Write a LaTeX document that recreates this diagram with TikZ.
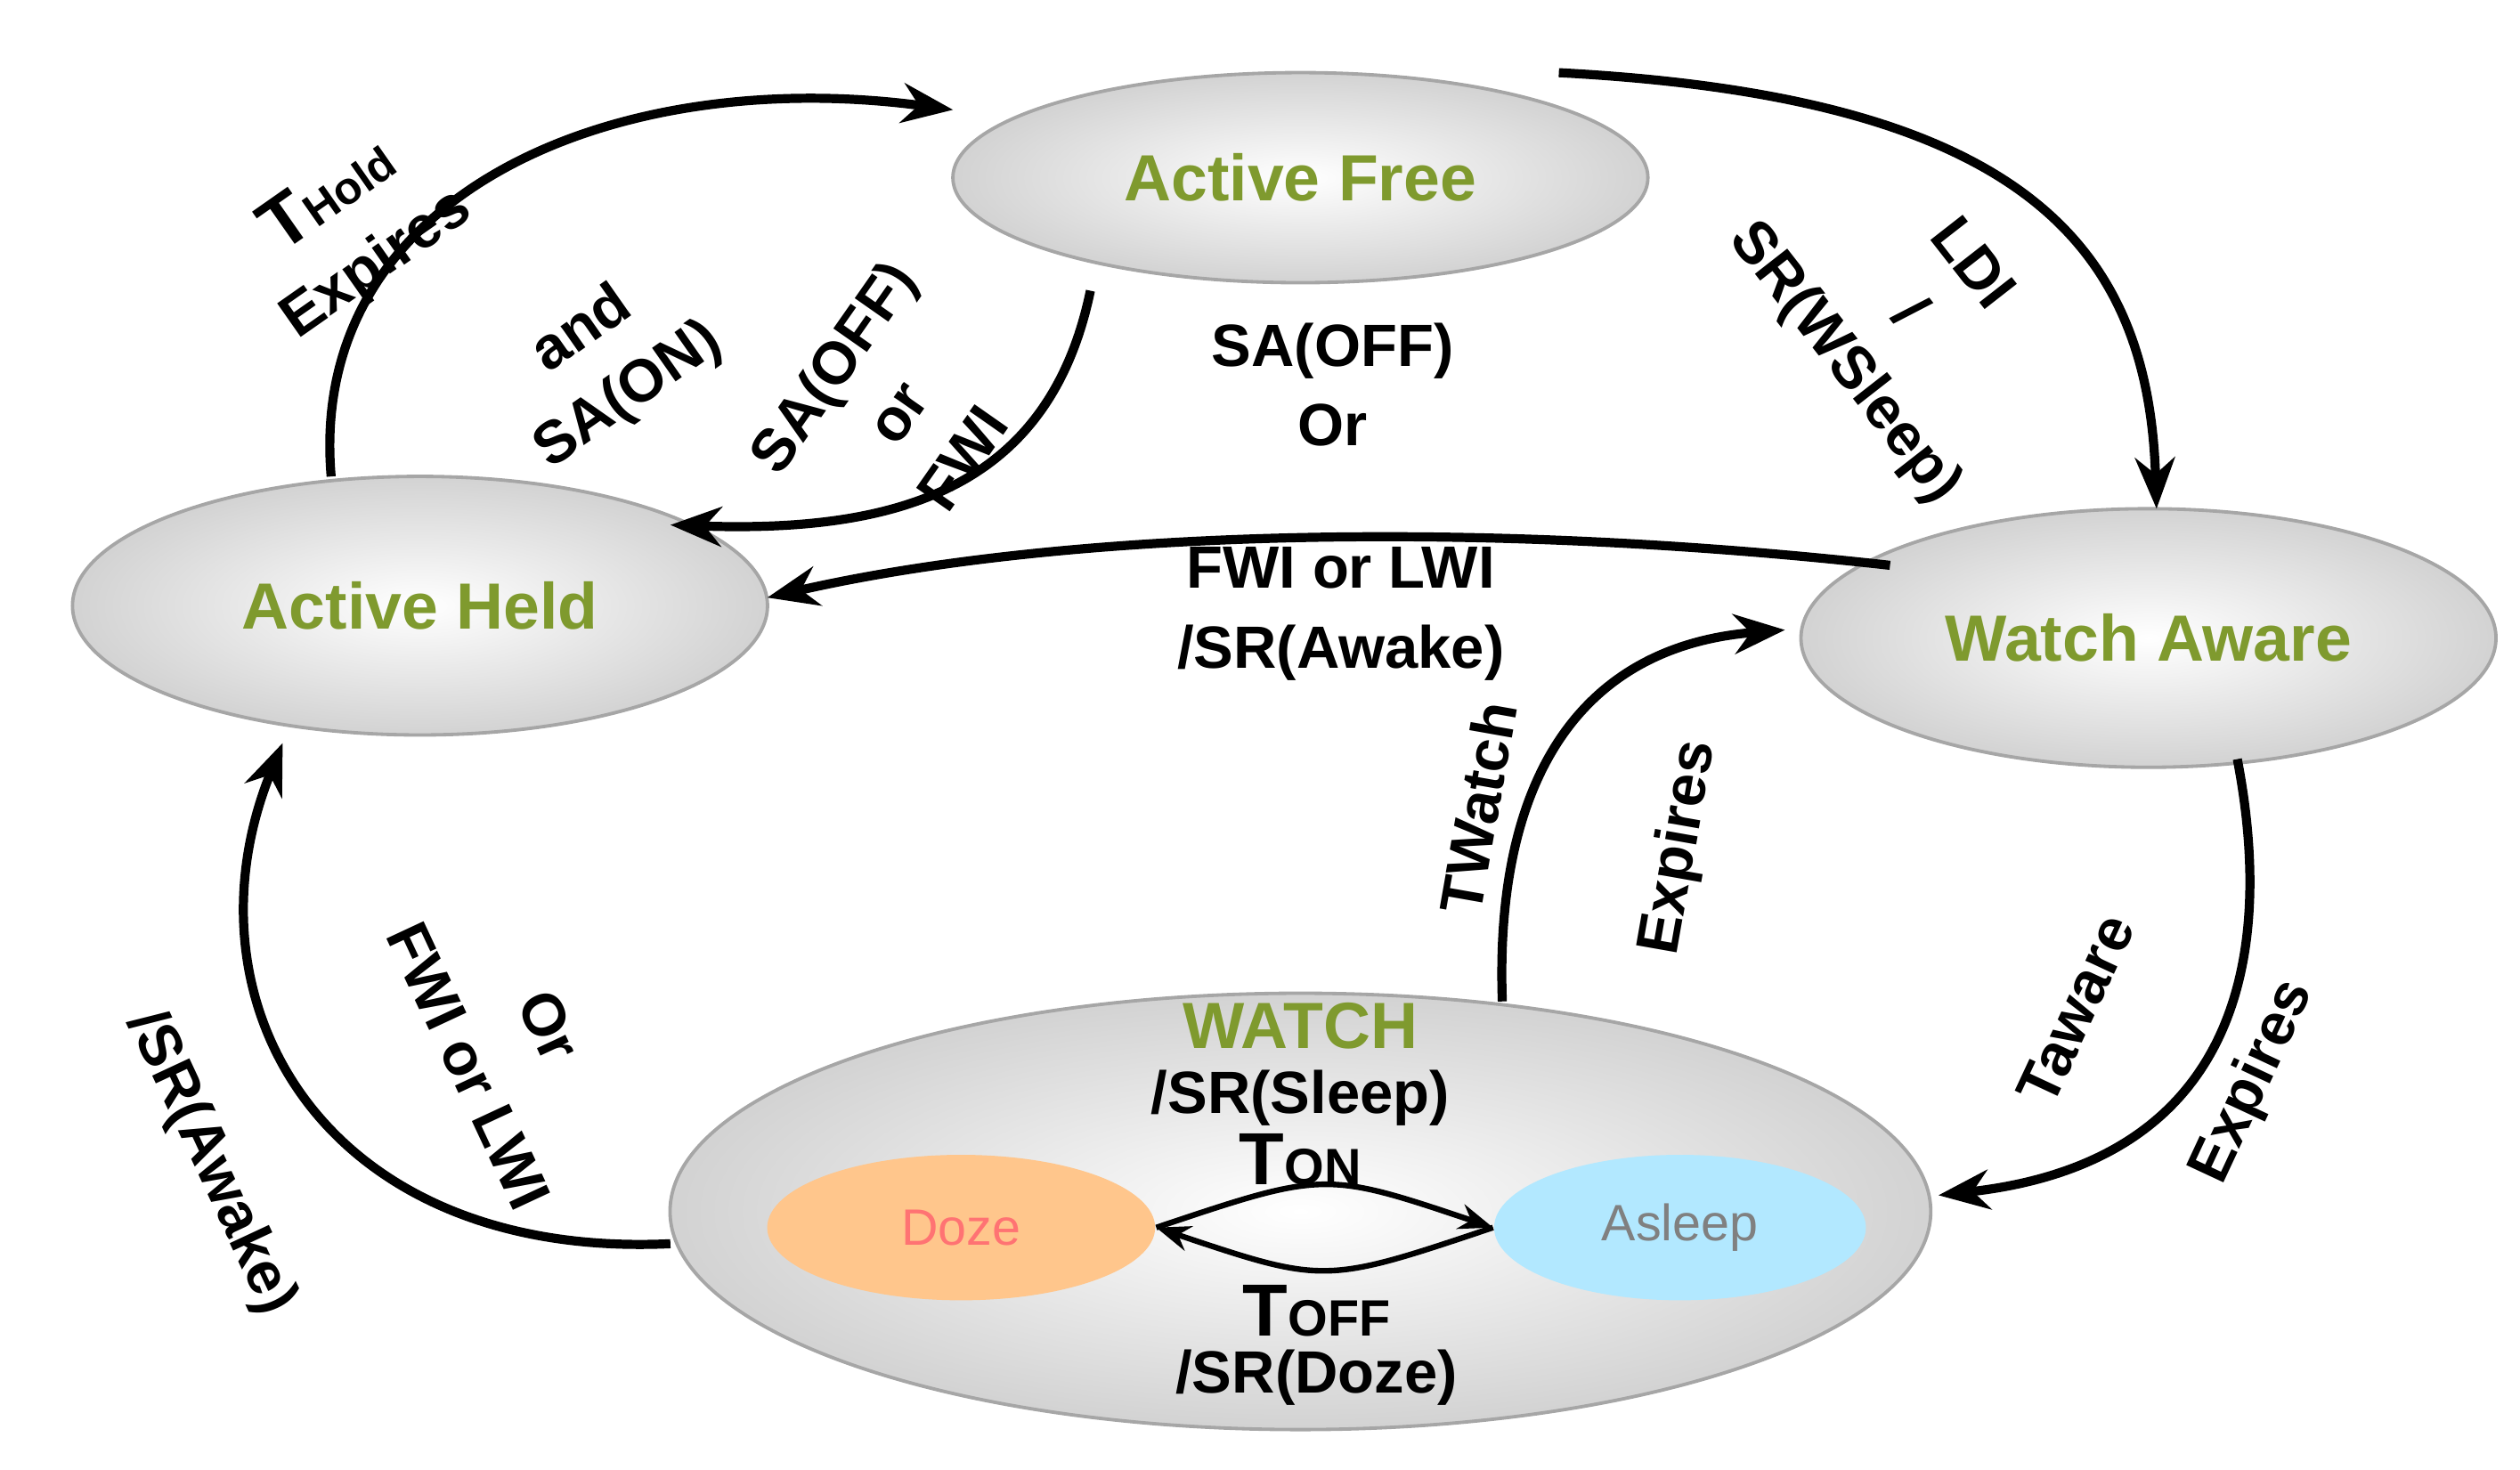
\documentclass[tikz,border=0pt]{standalone}
\usepackage{fontspec}
\setmainfont{Liberation Sans}
\usetikzlibrary{arrows.meta,shapes.geometric}
\definecolor{grn}{HTML}{7F9A2E}
\begin{document}
\begin{tikzpicture}[x=0.01cm,y=-0.01cm,
 st/.style={ellipse,draw=gray!70,line width=0.6pt,inner color=white,outer color=gray!35,font=\bfseries\fontsize{11.5}{13}\selectfont,text=grn},
 ar/.style={line width=1.6pt,-{Stealth[length=9pt,width=7pt]}},
 lb/.style={font=\bfseries\fontsize{10.5}{14}\selectfont,align=center,inner sep=0pt}]
\useasboundingbox (0,0) rectangle (1560,910);
\node[st,minimum width=4.3cm,minimum height=1.3cm] (af) at (805,110) {Active Free};
\node[st,minimum width=4.3cm,minimum height=1.6cm] (ah) at (260,375) {Active Held};
\node[st,minimum width=4.3cm,minimum height=1.6cm] (wa) at (1330,395) {Watch Aware};
\node[st,minimum width=7.8cm,minimum height=2.7cm] (w) at (805,750) {};
\node[ellipse,fill=orange!45,minimum width=2.4cm,minimum height=0.9cm,font=\fontsize{9}{10}\selectfont,text=red!55] (dz) at (595,760) {Doze};
\node[ellipse,fill=blue!30!cyan!30,minimum width=2.3cm,minimum height=0.9cm,font=\fontsize{9}{10}\selectfont,text=gray] (as) at (1040,760) {Asleep};
\node[lb,text=grn,font=\bfseries\fontsize{11.5}{13}\selectfont] (wt) at (805,635) {WATCH};
\node[lb] (ws) at (805,680) {/SR(Sleep)};
\node[lb] (ton) at (805,718) {\fontsize{13}{13}\selectfont T\fontsize{9}{10}\selectfont ON};
\node[lb,font=\bfseries\fontsize{10.5}{12}\selectfont] (toff) at (815,833) {\fontsize{13}{13}\selectfont T\fontsize{9}{10}\selectfont OFF\\[-2pt]\fontsize{10.5}{12}\selectfont/SR(Doze)};
% connectors
\draw[ar] (205,295) .. controls (190,120) and (380,40) .. (590,68);
\draw[ar] (675,180) .. controls (650,300) and (560,330) .. (415,325);
\draw[ar] (965,45) .. controls (1250,60) and (1330,150) .. (1335,315);
\draw[ar] (1170,350) .. controls (900,320) and (650,330) .. (475,370);
\draw[ar] (930,620) .. controls (925,480) and (980,400) .. (1105,390);
\draw[ar] (1385,470) .. controls (1410,600) and (1380,720) .. (1200,740);
\draw[ar] (415,770) .. controls (200,780) and (110,620) .. (175,460);
\draw[line width=1pt,-{Stealth[length=6pt]}] (dz.east) .. controls (820,725) .. (as.west);
\draw[line width=1pt,-{Stealth[length=6pt]}] (as.west) .. controls (820,795) .. (dz.east);
% labels
\node[lb,rotate=35] (l1) at (218,142) {\fontsize{13}{13}\selectfont T\fontsize{8}{9}\selectfont Hold\\Expires};
\node[lb,rotate=35] (l2) at (375,225) {and\\SA(ON)};
\node[lb,rotate=55] (l3) at (555,255) {SA(OFF)\\or\\FWI};
\node[lb] (l4) at (825,238) {SA(OFF)\\Or};
\node[lb,rotate=-52] (l5) at (1180,195) {LDI\\/\\SR(WSleep)};
\node[lb] (l6) at (830,380) {FWI or LWI\\/SR(Awake)};
\node[lb,rotate=80] (l7) at (915,500) {TWatch};
\node[lb,rotate=80] (l8) at (1040,525) {Expires};
\node[lb,rotate=65] (l9) at (1285,625) {Taware};
\node[lb,rotate=65] (l10) at (1395,670) {Expires};
\node[lb,rotate=-65] (l11) at (340,635) {Or};
\node[lb,rotate=-65] (l12) at (290,660) {FWI or LWI};
\node[lb,rotate=-65] (l13) at (130,720) {/SR(Awake)};
\end{tikzpicture}
\end{document}
